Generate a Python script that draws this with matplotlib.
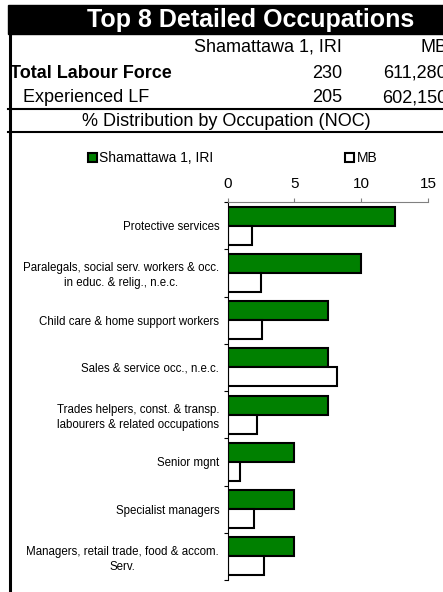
import matplotlib
matplotlib.use("Agg")
import matplotlib.pyplot as plt
from matplotlib.patches import Patch, Rectangle
from matplotlib.lines import Line2D
import numpy as np

plt.rcParams['font.family'] = ['Liberation Sans', 'DejaVu Sans']

# 数据
occupations = [
    "Protective services",
    "Paralegals, social serv. workers & occ.\nin educ. & relig., n.e.c.",
    "Child care & home support workers",
    "Sales & service occ., n.e.c.",
    "Trades helpers, const. & transp.\nlabourers & related occupations",
    "Senior mgnt",
    "Specialist managers",
    "Managers, retail trade, food & accom.\nServ.",
]
area_pct = [12.5, 10.0, 7.5, 7.5, 7.5, 5.0, 5.0, 5.0]
mb_pct = [1.8, 2.5, 2.6, 8.2, 2.2, 0.9, 2.0, 2.7]

series_names = ["Shamattawa 1, IRI", "MB"]
row_labels = ["Total Labour Force", "Experienced LF"]
area_counts = ["230", "205"]
mb_counts = ["611,280", "602,150"]
x_ticks = [0, 5, 10, 15]

W, H = 443, 592
fig = plt.figure(figsize=(W / 100, H / 100), dpi=100)


def fx(px):
    return px / W


def fy(py):
    return 1 - py / H


# 表头部分
fig.patches.append(Rectangle((fx(8), fy(34)), 1 - fx(8), fy(5) - fy(34),
                             transform=fig.transFigure, color='black', zorder=0))
fig.text(fx(251), fy(20), "Top 8 Detailed Occupations", color='white',
         fontsize=18, fontweight='bold', ha='center', va='center')

fig.text(fx(342), fy(47), series_names[0], fontsize=13, ha='right', va='center')
fig.text(fx(447), fy(47), series_names[1], fontsize=13, ha='right', va='center')

fig.text(fx(10), fy(73), row_labels[0], fontsize=13, fontweight='bold', ha='left', va='center')
fig.text(fx(23), fy(98), row_labels[1], fontsize=13, ha='left', va='center')
for i, yy in enumerate([73, 98]):
    fig.text(fx(342), fy(yy), area_counts[i], fontsize=13, ha='right', va='center')
    fig.text(fx(447), fy(yy), mb_counts[i], fontsize=13, ha='right', va='center')

fig.text(fx(226), fy(121), "% Distribution by Occupation (NOC)", fontsize=13,
         ha='center', va='center')

for yy in [109, 132]:
    fig.lines.append(Line2D([fx(8), 1], [fy(yy), fy(yy)], transform=fig.transFigure,
                            color='black', linewidth=1.5))
fig.lines.append(Line2D([fx(9.5), fx(9.5)], [fy(34), 0], transform=fig.transFigure,
                        color='black', linewidth=2.2))

# 图表
ax = fig.add_axes([fx(227.5), fy(580), fx(428) - fx(227.5), fy(202) - fy(580)])
y = np.arange(len(occupations))
ax.barh(y - 0.2, area_pct, height=0.4, color='#008000', edgecolor='black', linewidth=1.5)
ax.barh(y + 0.2, mb_pct, height=0.4, color='white', edgecolor='black', linewidth=1.5)

ax.set_xlim(0, 15)
ax.set_ylim(len(occupations) - 0.5, -0.5)
ax.xaxis.tick_top()
ax.set_xticks(x_ticks)
ax.tick_params(axis='x', which='major', labelsize=11, length=3, pad=5, color='#808080')
ax.set_yticks(y)
ax.set_yticklabels(occupations, fontsize=8.3, multialignment='center', linespacing=1.3)
ax.tick_params(axis='y', which='major', length=0, pad=6)
ax.set_yticks(np.arange(-0.5, len(occupations)), minor=True)
ax.tick_params(axis='y', which='minor', length=3, width=0.8)
for s in ['right', 'bottom']:
    ax.spines[s].set_visible(False)
ax.spines['top'].set_color('#808080')
ax.spines['left'].set_color('black')

handles = [Patch(facecolor='#008000', edgecolor='black', linewidth=1.5),
           Patch(facecolor='white', edgecolor='black', linewidth=1.5)]
fig.legend(handles, series_names, ncol=2, loc='center left',
           bbox_to_anchor=(fx(88), fy(158.5)), frameon=False, fontsize=10,
           handlelength=0.65, handleheight=0.65, handletextpad=0.15,
           columnspacing=9.5, borderpad=0, borderaxespad=0)

fig.savefig("out.png", dpi=100)
